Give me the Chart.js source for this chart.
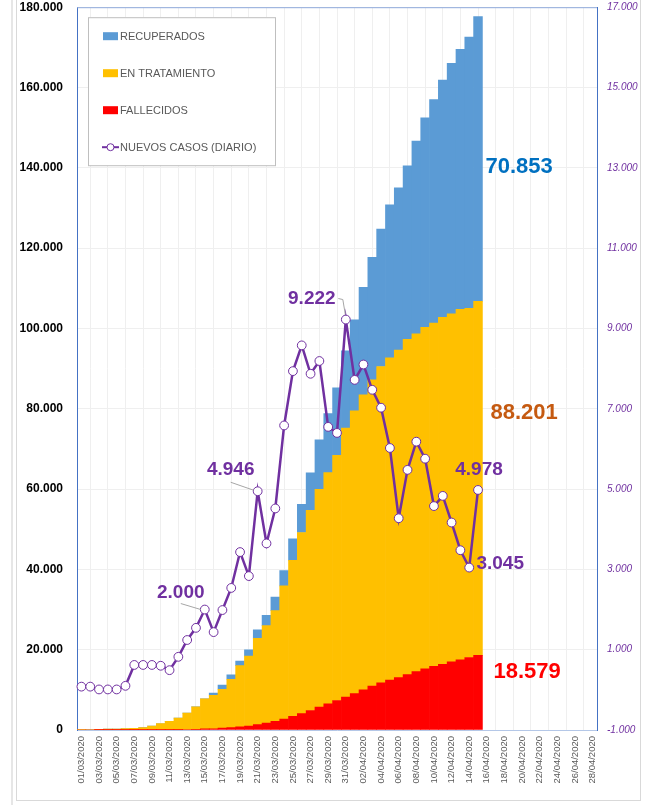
<!DOCTYPE html>
<html lang="es">
<head>
    <meta charset="UTF-8">
    <title>COVID-19 España</title>
    <script src="https://cdn.jsdelivr.net/npm/chart.js"></script>
    <style>
        html, body { margin: 0; padding: 0; background: #fff; overflow: hidden; }
        .frame { position: absolute; left: 16px; top: -2px; width: 623px; height: 801px; border: 1px solid #d9d9d9; }
        .edge { position: absolute; left: 11px; top: 0; width: 2px; height: 805px; background: #e6e6e6; }
        #chart { position: absolute; left: 0; top: -14px; }
    </style>
</head>
<body>
    <div class="edge"></div>
    <div class="frame"></div>
    <canvas id="chart" width="647" height="819"></canvas>

    <script>
        const fechas = [
            '01/03/2020', '02/03/2020', '03/03/2020', '04/03/2020', '05/03/2020', '06/03/2020', '07/03/2020', '08/03/2020',
            '09/03/2020', '10/03/2020', '11/03/2020', '12/03/2020', '13/03/2020', '14/03/2020', '15/03/2020', '16/03/2020',
            '17/03/2020', '18/03/2020', '19/03/2020', '20/03/2020', '21/03/2020', '22/03/2020', '23/03/2020', '24/03/2020',
            '25/03/2020', '26/03/2020', '27/03/2020', '28/03/2020', '29/03/2020', '30/03/2020', '31/03/2020', '01/04/2020',
            '02/04/2020', '03/04/2020', '04/04/2020', '05/04/2020', '06/04/2020', '07/04/2020', '08/04/2020', '09/04/2020',
            '10/04/2020', '11/04/2020', '12/04/2020', '13/04/2020', '14/04/2020', '15/04/2020', '16/04/2020', '17/04/2020',
            '18/04/2020', '19/04/2020', '20/04/2020', '21/04/2020', '22/04/2020', '23/04/2020', '24/04/2020', '25/04/2020',
            '26/04/2020', '27/04/2020', '28/04/2020'
        ];

        const fallecidos = [
            0, 0, 1, 2, 3, 5, 8, 10, 28, 35, 47, 84, 120, 136, 288, 309,
            491, 598, 767, 1002, 1326, 1720, 2182, 2696, 3434, 4089, 4858, 5690, 6528, 7340, 8189, 9053,
            10003, 10935, 11744, 12418, 13055, 13798, 14555, 15238, 15843, 16353, 16972, 17489, 18056, 18579
        ];

        const enTratamiento = [
            73, 114, 150, 196, 254, 360, 422, 579, 971, 1587, 2081, 2866, 4089, 5617, 7465, 8352,
            9659, 12037, 15273, 17390, 21475, 24277, 27552, 33183, 38809, 45084, 49844, 54273, 57560, 61075, 66969, 70436,
            73492, 76262, 78773, 80261, 81540, 83504, 84114, 85043, 85511, 86390, 86656, 87280, 86981, 88201
        ];

        const recuperados = [
            0, 0, 0, 0, 0, 0, 0, 0, 0, 0, 0, 0, 0, 0, 0, 530,
            1028, 1081, 1107, 1588, 2125, 2575, 3355, 3794, 5367, 7015, 9357, 12285, 14709, 16780, 19259, 22647,
            26743, 30513, 34219, 38080, 40437, 43208, 48021, 52165, 55668, 59109, 62391, 64727, 67504, 70853
        ];

        const nuevosCasos = [
            80, 80, 10, 10, 10, 100, 620, 620, 620, 600, 490, 822, 1241, 1544, 2000, 1438,
            1987, 2538, 3431, 2833, 4946, 3646, 4517, 6584, 7937, 8578, 7871, 8189, 6549, 6398, 9222, 7719,
            8102, 7472, 7026, 6023, 4273, 5478, 6180, 5756, 4576, 4830, 4167, 3477, 3045, 4978
        ];

        // puntos de la linea que llevan etiqueta
        const etiquetasLinea = [14, 20, 30, 44, 45];

        const PURPLE = '#7030A0';

        function fmt(v) {
            return v.toString().replace(/\B(?=(\d{3})+(?!\d))/g, '.');
        }

        const legendItems = [
            { text: 'RECUPERADOS', color: '#5B9BD5', type: 'box' },
            { text: 'EN TRATAMIENTO', color: '#FFC000', type: 'box' },
            { text: 'FALLECIDOS', color: '#FF0000', type: 'box' },
            { text: 'NUEVOS CASOS (DIARIO)', color: PURPLE, type: 'line' }
        ];

        const extras = {
            id: 'extras',
            afterDraw(chart) {
                const ctx = chart.ctx;
                const area = chart.chartArea;
                ctx.save();

                // top border of plot
                ctx.strokeStyle = '#8faadc';
                ctx.lineWidth = 1;
                ctx.beginPath();
                ctx.moveTo(area.left, area.top + 0.5);
                ctx.lineTo(area.right, area.top + 0.5);
                ctx.stroke();

                // legend
                const lx = area.left + 11, ly = area.top + 10;
                ctx.fillStyle = '#fff';
                ctx.fillRect(lx, ly, 187, 148);
                ctx.strokeStyle = '#bfbfbf';
                ctx.strokeRect(lx + 0.5, ly + 0.5, 187, 148);
                ctx.font = '11px "Liberation Sans", Arial, sans-serif';
                ctx.textBaseline = 'middle';
                legendItems.forEach((it, i) => {
                    const cy = ly + 19 + i * 37;
                    if (it.type === 'box') {
                        ctx.fillStyle = it.color;
                        ctx.fillRect(lx + 15, cy - 4, 15, 8);
                    } else {
                        ctx.strokeStyle = it.color;
                        ctx.lineWidth = 2;
                        ctx.beginPath();
                        ctx.moveTo(lx + 14, cy);
                        ctx.lineTo(lx + 31, cy);
                        ctx.stroke();
                        ctx.fillStyle = '#fff';
                        ctx.lineWidth = 1;
                        ctx.beginPath();
                        ctx.arc(lx + 22.5, cy, 3.5, 0, Math.PI * 2);
                        ctx.fill();
                        ctx.stroke();
                    }
                    ctx.fillStyle = '#595959';
                    ctx.textAlign = 'left';
                    ctx.fillText(it.text, lx + 32, cy + 1);
                });

                // labels on the line
                const pts = chart.getDatasetMeta(0).data;
                const offs = { 14: [-24, -17], 20: [-27, -21], 30: [-34, -21], 44: [31, -4], 45: [1, -20] };
                const leaders = {
                    14: [[-24, -6], [-4, 0]],
                    20: [[-27, -9], [-4, -1]],
                    30: [[-7.5, -21], [-3, -20], [-0.5, -5]]
                };
                ctx.strokeStyle = '#a6a6a6';
                ctx.lineWidth = 1;
                Object.keys(leaders).forEach(k => {
                    const p = pts[k];
                    ctx.beginPath();
                    leaders[k].forEach((d, j) => {
                        if (j === 0) ctx.moveTo(p.x + d[0], p.y + d[1]);
                        else ctx.lineTo(p.x + d[0], p.y + d[1]);
                    });
                    ctx.stroke();
                });
                ctx.font = 'bold 19px "Liberation Sans", Arial, sans-serif';
                ctx.fillStyle = PURPLE;
                ctx.textAlign = 'center';
                etiquetasLinea.forEach(i => {
                    const p = pts[i];
                    ctx.fillText(fmt(nuevosCasos[i]), p.x + offs[i][0], p.y + offs[i][1]);
                });

                // totals at the end of the bars
                const last = fallecidos.length - 1;
                const bar = chart.getDatasetMeta(3).data[last];
                const bx = bar.x + bar.width / 2 + 3;
                const ys = chart.scales.y;
                ctx.font = 'bold 22px "Liberation Sans", Arial, sans-serif';
                ctx.textAlign = 'left';
                ctx.fillStyle = '#0070C0';
                ctx.fillText(fmt(recuperados[last]), bx, ys.getPixelForValue(140300));
                ctx.fillStyle = '#C55A11';
                ctx.fillText(fmt(enTratamiento[last]), bx + 5, ys.getPixelForValue(79000));
                ctx.fillStyle = '#FF0000';
                ctx.fillText(fmt(fallecidos[last]), bx + 8, ys.getPixelForValue(14400));
                ctx.restore();
            }
        };

        new Chart(document.getElementById('chart'), {
            type: 'bar',
            data: {
                labels: fechas,
                datasets: [
                    {
                        type: 'line',
                        label: 'NUEVOS CASOS (DIARIO)',
                        data: nuevosCasos,
                        yAxisID: 'y2',
                        borderColor: PURPLE,
                        borderWidth: 2.5,
                        pointRadius: 4.4,
                        pointBackgroundColor: '#fff',
                        pointBorderColor: PURPLE,
                        pointBorderWidth: 1,
                        tension: 0
                    },
                    { label: 'FALLECIDOS', data: fallecidos, backgroundColor: '#FF0000', yAxisID: 'y' },
                    { label: 'EN TRATAMIENTO', data: enTratamiento, backgroundColor: '#FFC000', yAxisID: 'y' },
                    { label: 'RECUPERADOS', data: recuperados, backgroundColor: '#5B9BD5', yAxisID: 'y' }
                ]
            },
            options: {
                responsive: false,
                animation: false,
                layout: { autoPadding: false, padding: { top: 7, left: 0, right: 0, bottom: 0 } },
                datasets: { bar: { barPercentage: 1, categoryPercentage: 1, borderWidth: 0 } },
                plugins: { legend: { display: false }, tooltip: { enabled: false } },
                scales: {
                    x: {
                        stacked: true,
                        grid: { color: '#efefef', offset: true, drawTicks: false },
                        border: { color: '#b4c7e7' },
                        ticks: {
                            autoSkip: false,
                            maxRotation: 90,
                            minRotation: 90,
                            padding: 6,
                            color: '#595959',
                            font: { size: 9.5, family: '"Liberation Sans", Arial, sans-serif' },
                            callback: function (v, i) { return i % 2 === 0 ? this.getLabelForValue(v) : null; }
                        },
                        afterFit(s) { s.height = 75; }
                    },
                    y: {
                        stacked: true,
                        min: 0,
                        max: 180000,
                        grid: { color: '#efefef', drawTicks: false },
                        border: { color: '#4472C4' },
                        ticks: {
                            stepSize: 20000,
                            padding: 14,
                            color: '#000',
                            font: { size: 12, weight: 'bold', family: '"Liberation Sans", Arial, sans-serif' },
                            callback: v => fmt(v)
                        },
                        afterFit(s) { s.width = 77; }
                    },
                    y2: {
                        position: 'right',
                        min: -1000,
                        max: 17000,
                        grid: { display: false, drawTicks: false },
                        border: { color: '#4472C4' },
                        ticks: {
                            stepSize: 2000,
                            padding: 10,
                            color: PURPLE,
                            font: { size: 10, style: 'italic', family: '"Liberation Sans", Arial, sans-serif' },
                            callback: v => fmt(v)
                        },
                        afterFit(s) { s.width = 50; }
                    }
                }
            },
            plugins: [extras]
        });
    </script>
</body>
</html>
